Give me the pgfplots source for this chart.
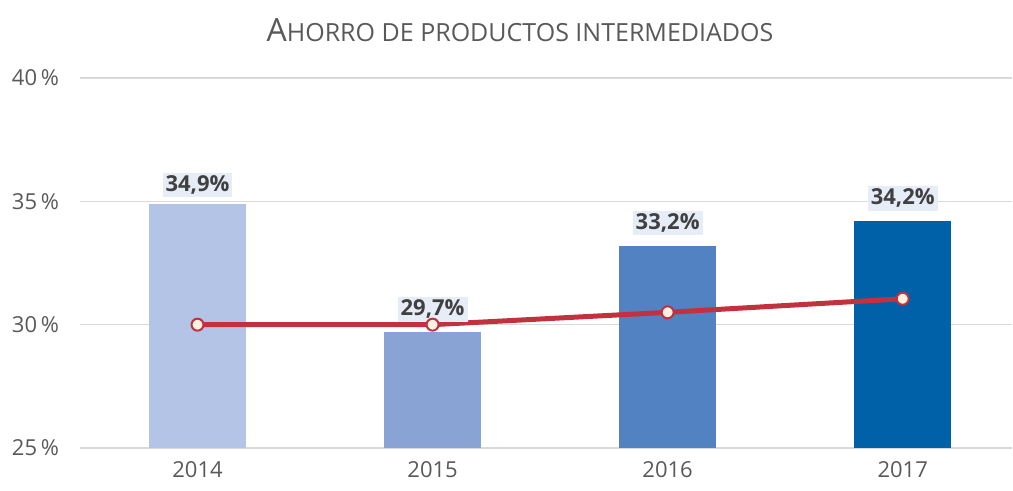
\documentclass[border=0pt]{standalone}
\usepackage{fontspec}
\setmainfont{Open Sans}
\usepackage{pgfplots}
\pgfplotsset{compat=1.18}
\definecolor{barA}{HTML}{B4C4E6}
\definecolor{barB}{HTML}{88A3D4}
\definecolor{barC}{HTML}{5282C2}
\definecolor{barD}{HTML}{0061A8}
\definecolor{linered}{HTML}{C1313E}
\definecolor{gridgray}{HTML}{D9D9D9}
\definecolor{txtgray}{HTML}{595959}
\definecolor{lbltxt}{HTML}{404040}
\definecolor{lblbg}{HTML}{E6EDF7}
\newcommand{\smc}[1]{{\fontsize{12.5}{14}\selectfont #1}}
\pgfplotsset{labbar/.style={ybar, bar width=48.5pt, bar shift=0pt, draw=none,
    nodes near coords, point meta=explicit symbolic,
    every node near coord/.append style={font=\bfseries\fontsize{11}{13}\selectfont,
      text=lbltxt, fill=lblbg, inner sep=1.5pt, yshift=#1}},
  labbar/.default=5pt}
\begin{document}
\begin{tikzpicture}
\useasboundingbox (0,0) rectangle (506.5pt,245.5pt);
\node[text=txtgray, font=\fontsize{16}{18}\selectfont] at (260pt,230.5pt)
  {A\smc{HORRO DE PRODUCTOS INTERMEDIADOS}};
\begin{axis}[
  at={(40pt,21.5pt)}, anchor=south west,
  scale only axis, width=466pt, height=185pt,
  xmin=-0.5, xmax=3.465, ymin=25, ymax=40,
  axis line style={draw=none},
  ytick={25,30,35,40},
  yticklabels={25\,\%,30\,\%,35\,\%,40\,\%},
  xtick={0,1,2,3}, xticklabels={2014,2015,2016,2017},
  major tick length=0pt,
  ymajorgrids, grid style={gridgray, line width=0.8pt},
  tick label style={text=txtgray, font=\fontsize{11}{13}\selectfont},
  yticklabel style={anchor=east, xshift=-7pt},
  xticklabel style={yshift=-3pt},
]
\addplot[labbar=3pt, fill=barA] coordinates {(0,34.9) [34,9\%]};
\addplot[labbar, fill=barB] coordinates {(1,29.7) [29,7\%]};
\addplot[labbar, fill=barC] coordinates {(2,33.2) [33,2\%]};
\addplot[labbar, fill=barD] coordinates {(3,34.2) [34,2\%]};
\addplot[sharp plot, linered, line width=2.5pt,
  mark=*, mark size=3pt, mark options={fill=white!88!orange, draw=linered, line width=1pt}]
  coordinates {(0,30.0) (1,30.0) (2,30.5) (3,31.05)};
\end{axis}
\end{tikzpicture}
\end{document}
